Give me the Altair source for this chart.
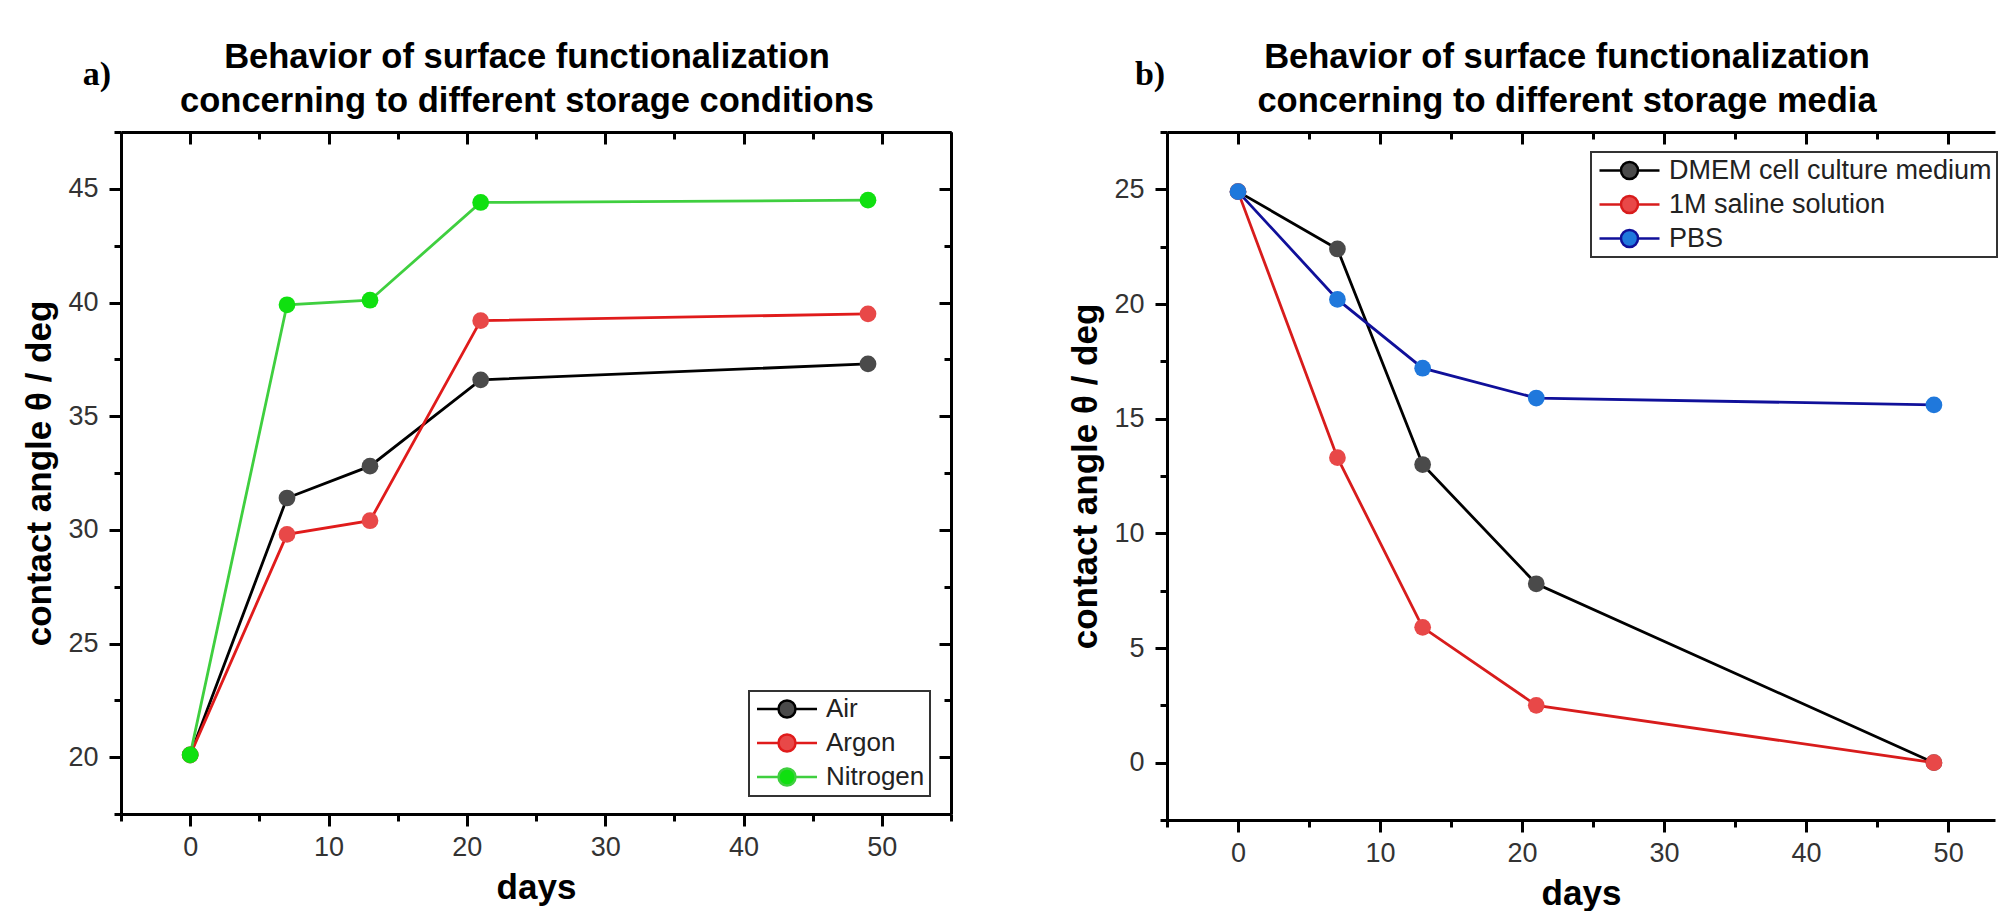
import altair as alt
import pandas as pd

# ---------------- data ----------------
days = [0, 7, 13, 21, 49]

# panel a) storage conditions
a_names = ["Air", "Argon", "Nitrogen"]
air = [20.1, 31.4, 32.8, 36.6, 37.3]
argon = [20.1, 29.8, 30.4, 39.2, 39.5]
nitrogen = [20.1, 39.9, 40.1, 44.4, 44.5]
a_line_colors = ["#000000", "#e01b1b", "#3fcf3f"]
a_marker_colors = ["#4a4a4a", "#e84848", "#10e010"]
a_title = ["Behavior of surface functionalization", "concerning to different storage conditions"]

# panel b) storage media
b_names = ["DMEM cell culture medium", "1M saline solution", "PBS"]
dmem = [24.9, 22.4, 13.0, 7.8, 0.0]
saline = [24.9, 13.3, 5.9, 2.5, 0.0]
pbs = [24.9, 20.2, 17.2, 15.9, 15.6]
b_line_colors = ["#000000", "#d81c1c", "#10109a"]
b_marker_colors = ["#4a4a4a", "#e84848", "#1f78dc"]
b_title = ["Behavior of surface functionalization", "concerning to different storage media"]

a_x_major = [0, 10, 20, 30, 40, 50]
a_x_minor = [-5, 5, 15, 25, 35, 45, 55]
a_y_major = [20, 25, 30, 35, 40, 45]
a_y_minor = [17.5, 22.5, 27.5, 32.5, 37.5, 42.5, 47.5]
b_x_major = [0, 10, 20, 30, 40, 50]
b_x_minor = [-5, 5, 15, 25, 35, 45]
b_y_major = [0, 5, 10, 15, 20, 25]
b_y_minor = [-2.5, 2.5, 7.5, 12.5, 17.5, 22.5, 27.5]


def long_df(names, series):
    rows = []
    for n, vals in zip(names, series):
        for d, v in zip(days, vals):
            rows.append({"series": n, "day": d, "value": v})
    return pd.DataFrame(rows)


df_a = long_df(a_names, [air, argon, nitrogen])
df_b = long_df(b_names, [dmem, saline, pbs])

FONT = "Liberation Sans"
SYM = "M-1,0H1.15M2.85,0H5M1.15,0a0.85,0.85 0 1,0 1.7,0a0.85,0.85 0 1,0 -1.7,0Z"


def panel(df, names, line_colors, marker_colors, xdom, ydom, xmaj, xmin, ymaj, ymin,
          w, h, title_lines, title_x, tag, tag_xy, legend_xy, legend_fs, right_axis=True):
    xs = alt.Scale(domain=xdom, nice=False, zero=False)
    ys = alt.Scale(domain=ydom, nice=False, zero=False)
    leg = dict(title=None, orient="none", legendX=legend_xy[0], legendY=legend_xy[1],
               symbolType=SYM, symbolSize=400, symbolStrokeWidth=2.5, labelOffset=46,
               labelFontSize=legend_fs, labelFont=FONT, labelColor="#222", labelLimit=800,
               rowPadding=6, padding=5, strokeColor="#333", fillColor="white")
    base = alt.Chart(df)
    lines = base.mark_line(strokeWidth=2.8).encode(
        x=alt.X("day:Q", scale=xs,
                axis=alt.Axis(orient="bottom", values=xmaj, tickSize=12, labelPadding=8,
                              title="days", titlePadding=10, domain=True, format="d")),
        y=alt.Y("value:Q", scale=ys,
                axis=alt.Axis(orient="left", values=ymaj, tickSize=12, labelPadding=11,
                              title="contact angle θ / deg", titlePadding=10,
                              domain=True, format="d")),
        stroke=alt.Stroke("series:N", scale=alt.Scale(domain=names, range=line_colors),
                          legend=alt.Legend(**leg)),
    )
    points = base.mark_circle(size=280, opacity=1).encode(
        x=alt.X("day:Q", scale=xs,
                axis=alt.Axis(orient="bottom", values=xmin, tickSize=7, labels=False,
                              domain=False, title=None)),
        y=alt.Y("value:Q", scale=ys,
                axis=alt.Axis(orient="left", values=ymin, tickSize=7, labels=False,
                              domain=False, title=None)),
        fill=alt.Fill("series:N", scale=alt.Scale(domain=names, range=marker_colors),
                      legend=alt.Legend(**leg)),
    )
    top_major = base.mark_point(opacity=0).encode(
        x=alt.X("day:Q", scale=xs,
                axis=alt.Axis(orient="top", values=xmaj, tickSize=12, offset=-12,
                              labels=False, domain=False, title=None)),
        y=alt.Y("value:Q", scale=ys,
                axis=(alt.Axis(orient="right", values=ymaj, tickSize=12, offset=-12,
                               labels=False, domain=False, title=None) if right_axis else None)),
    )
    top_minor = base.mark_point(opacity=0).encode(
        x=alt.X("day:Q", scale=xs,
                axis=alt.Axis(orient="top", values=xmin, tickSize=7, offset=-7,
                              labels=False, domain=False, title=None)),
        y=alt.Y("value:Q", scale=ys,
                axis=(alt.Axis(orient="right", values=ymin, tickSize=7, offset=-7,
                               labels=False, domain=False, title=None) if right_axis else None)),
    )
    frame = base.mark_point(opacity=0).encode(
        x=alt.X("day:Q", scale=xs,
                axis=alt.Axis(orient="top", ticks=False, labels=False, domain=True, title=None)),
        y=alt.Y("value:Q", scale=ys,
                axis=(alt.Axis(orient="right", ticks=False, labels=False, domain=True, title=None)
                      if right_axis else None)),
    )
    tag_text = alt.Chart(pd.DataFrame({"t": [tag]})).mark_text(
        font="Liberation Serif", fontWeight="bold", fontSize=34, align="center",
        baseline="middle", color="black"
    ).encode(text="t:N", x=alt.value(tag_xy[0]), y=alt.value(tag_xy[1]))
    title1 = alt.Chart(pd.DataFrame({"t": [title_lines[0]]})).mark_text(
        font=FONT, fontWeight="bold", fontSize=34.5, align="center", baseline="middle",
        color="black"
    ).encode(text="t:N", x=alt.value(title_x), y=alt.value(-74))
    title2 = alt.Chart(pd.DataFrame({"t": [title_lines[1]]})).mark_text(
        font=FONT, fontWeight="bold", fontSize=34.5, align="center", baseline="middle",
        color="black"
    ).encode(text="t:N", x=alt.value(title_x), y=alt.value(-30))

    return alt.layer(lines, points, top_major, top_minor, frame, tag_text, title1, title2).resolve_axis(
        x="independent", y="independent"
    ).properties(width=w, height=h)


pa = panel(df_a, a_names, a_line_colors, a_marker_colors, [-5, 55], [17.5, 47.5],
           a_x_major, a_x_minor, a_y_major, a_y_minor, 830, 682, a_title, 406,
           "a)", (-24, -57), (628, 559), 26, right_axis=True)
pb = panel(df_b, b_names, b_line_colors, b_marker_colors, [-5, 53.3], [-2.5, 27.5],
           b_x_major, b_x_minor, b_y_major, b_y_minor, 828, 688, b_title, 400,
           "b)", (-17, -57), (424, 20), 27, right_axis=False)

chart = alt.hconcat(pa, pb, spacing=115).resolve_scale(
    x="independent", y="independent", stroke="independent", fill="independent"
).configure_view(stroke=None).configure_axis(
    grid=False, domainColor="black", domainWidth=3, tickColor="black", tickWidth=3,
    labelFont=FONT, labelFontSize=27, labelColor="#333",
    titleFont=FONT, titleFontSize=35, titleFontWeight="bold", titleColor="black",
).configure_legend(strokeWidth=2).properties(
    padding={"left": 22, "top": 40, "right": 0, "bottom": 0},
    background="white",
)

chart.save("out.html", embed_options={"renderer": "svg", "actions": False})
